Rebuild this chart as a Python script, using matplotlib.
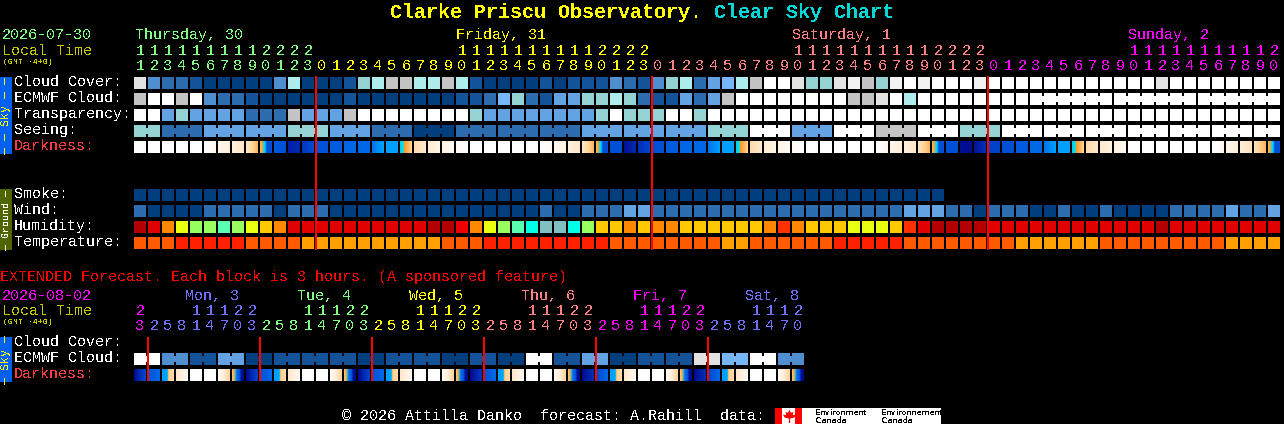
import numpy as np
import matplotlib
matplotlib.use("Agg")
import matplotlib.pyplot as plt
from matplotlib.colors import LinearSegmentedColormap
from matplotlib.patches import Rectangle

plt.rcParams['font.family'] = ['Liberation Mono', 'DejaVu Sans Mono']
plt.rcParams['text.antialiased'] = False
plt.rcParams['text.hinting'] = 'native'
plt.rcParams['text.hinting_factor'] = 1

# ---------- data ----------
first_hour = 11
ext_first_hour = 23

cloud_cover = list("g3221" "00000" "3t000" "1TtGG" "t"
                   "tGt10" "00010" "11132" "13Tt2" "45tGW" "WgTTg" "fGTfW" "fWWWf"
                   "WWWWWWWWWWWW" "g" "WWWWWWWW")
ecmwf_cloud = list("GWWGW" "32210" "00000" "10000" "0"
                   "00112" "5T214" "4TTtT" "21142" "4G" "WWWWWWWW" "GGgWt"
                   "WWWWWWWWWWWWWWWWWWWWWWWWWW")
transparency = list("WW4T4444" "222G444G" "WWWWWWWW" "T" "44444444" "TWTTTWWT"
                    "WWWWWWWWWWWWWWWWWWWWWWWWWWWWWWWWWWWWWWWWW")
seeing = list("TT" "222" "444" "444" "TTT" "444" "222" "000" "222" "222" "222" "444" "444" "444"
              "TTT" "WWW" "444" "WWW" "GGG" "WWW" "TTT" "WWW" "WWW" "WWW" "WWW" "WWW" "WWW" "WW")
smoke = list("0000000000" "0000000000" "0000000000" "0000000000" "0000000000" "00000000")
wind = list("20000" "22222" "0" "222" "000000000000000" "2" "00" "222" "44"
            "222222222222222222" "444" "22" "0" "222" "00" "2" "00" "2" "0000" "2222" "4" "22" "4")
humidity = ["B", "R", "O", "L", "V", "V", "M", "V", "L", "Y", "O", "R", "R", "R", "R", "R", "R", "R", "R", "R", "R",
            "B", "B", "H", "O", "L", "V", "M", "C", "S", "S", "C", "V", "Y", "Y", "O", "Y", "O", "O", "Y", "Y",
            "Y", "Y", "Y", "Y", "O", "E", "O", "Y", "Y", "Y", "L", "L", "L", "Y", "E", "R", "B", "B", "B", "B",
            "R", "R", "R", "R", "R", "R", "R", "R", "R", "R", "R", "R", "B", "R", "R", "R", "R", "R", "R", "R", "R"]
temperature = list("PPP" "QQQQQ" "PPPP" "AAAAAAAAAA" "PPP" "QQQQQQQQQ" "PPPPPPPP" "AA" "PPPPPP" "QQQQQ"
                   "PPPPPPPP" "AAAAAA" "PPPPPPPPP" "AAAA")
DUSK = (4, 4.4, 4.8, 8, 8, 8)
DAWN = (4.85, 4.4, 4, 3)
darkness = [(0,), (0,), (0,), (0,), (0,), (0, .6), (.8, 1.2), (1.4, 1.9), (2, 2.5, 3.2, 3.8), DUSK,
            (7.6, 8), (9.4, 9.2), (8.8, 8.2), (7.9,), (7.5,), (7,), (7,), (6.8, 6.3, 6), (6,), DAWN,
            (2.6, 1.8), (1.6, 1), (1, .5), (.4, 0), (0,), (0,), (0,), (0,), (0,), (0, .5),
            (.5, 1.1), (1.2, 2), (2, 3.8), DUSK, (8,), (9.8, 9.2), (9, 8.4), (8,), (7.5,), (7,),
            (7,), (6.8, 6), (6,), DAWN, (2.6, 1.8), (1.6, 1), (1, .4), (.4, 0), (0,), (0,),
            (0,), (0,), (0,), (0, .6), (.8, 1.4), (1.4, 2), (2.2, 3.8), DUSK, (8,), (9.9, 10),
            (9.8, 9), (8.4,), (8,), (7.6,), (7,), (6.8, 6), (6,), DAWN, (2.6, 1.9), (1.8, 1.2),
            (1.2, .5), (0,), (0,), (0,), (0,), (0,), (0,), (0, .6), (.8, 1.4), (1.5, 2.2),
            (2.4, 3.8), DUSK]

ext_ecmwf = list("W314" "0111" "0110" "10W1" "4011" "g5W3")
E_DUSK = (3.6, 4.4, 7, 7.4, 10, 10)
E_DAWN = (6, 6, 6, 3, 3, 2.6)
ext_darkness = [(10, 8.2), (7.8, 7), E_DAWN, (2, .5), (0,), (0,), (.3, 3), E_DUSK,
                (10, 8.4), (8, 7), E_DAWN, (2, .5), (0,), (0,), (.3, 3), E_DUSK,
                (10, 8.4), (8, 7), E_DAWN, (2, .5), (0,), (0,), (.3, 3), E_DUSK,
                (10, 8.8), (8, 7), E_DAWN, (2, .5), (0,), (0,), (.3, 3), E_DUSK,
                (10, 9), (8.4, 7), E_DAWN, (2, .5), (0,), (0,), (.3, 3), E_DUSK,
                (10, 9), (8.4, 7), E_DAWN, (2, .5), (0,), (0,), (.3, 3), E_DUSK]

row_labels = ["Cloud Cover:", "ECMWF Cloud:", "Transparency:", "Seeing:", "Darkness:"]
ground_labels = ["Smoke:", "Wind:", "Humidity:", "Temperature:"]
day_labels = [("Thursday, 30", 135, "#80FF80"), ("Friday, 31", 456, "#FFFF00"),
              ("Saturday, 1", 792, "#FF8080"), ("Sunday, 2", 1128, "#FF00FF")]
ext_day_labels = [("Mon, 3", 185, "#7070FF"), ("Tue, 4", 297, "#80FF80"), ("Wed, 5", 409, "#FFFF00"),
                  ("Thu, 6", 521, "#FF8080"), ("Fri, 7", 633, "#FF00FF"), ("Sat, 8", 745, "#7070FF")]
day_breaks = [13, 37, 61]
hour_colors = ["#80FF80", "#FFFF00", "#FF8080", "#FF00FF"]
ext_breaks = [1, 9, 17, 25, 33, 41]
ext_colors = ["#FF00FF", "#7070FF", "#80FF80", "#FFFF00", "#FF8080", "#FF00FF", "#7070FF"]

palette = {
    '0': '#003E7E', '1': '#14539A', '2': '#2D6CAE', '3': '#4F8FD0', '4': '#63A3E3', '5': '#76B6F6',
    'T': '#94D3D3', 't': '#ADEDED', 'G': '#C4C4C4', 'g': '#E2E2E2', 'f': '#F2F2F2', 'W': '#FFFFFF',
    'B': '#B40000', 'R': '#E00000', 'H': '#F00000', 'E': '#FF3000', 'O': '#FF8800', 'Y': '#FFC800',
    'L': '#E8FF10', 'V': '#98FF60', 'M': '#58FFB0', 'C': '#00FFE8', 'S': '#80C0C0',
    'P': '#FF5A00', 'Q': '#FF2000', 'A': '#FFA000',
}

dark_cmap = LinearSegmentedColormap.from_list("dark", [
    (0.00, '#FFFFFF'), (0.10, '#FFF4E6'), (0.20, '#FFE6C8'), (0.30, '#FFD498'), (0.40, '#FFB050'),
    (0.44, '#FF9A20'), (0.45, '#00E8E8'), (0.48, '#00D0F0'), (0.60, '#00A0FF'), (0.70, '#0068E8'),
    (0.80, '#0050D8'), (0.90, '#0030B8'), (1.00, '#000C90')], N=512)

# ---------- figure ----------
W, H = 1284, 424
fig = plt.figure(figsize=(W / 100, H / 100), dpi=100, facecolor='black')
ax = fig.add_axes([0, 0, 1, 1])
ax.set_facecolor('black')
ax.axis('off')

X0, PITCH, CELL = 134, 14, 12


def cx(c):
    return X0 + PITCH * c


def rect(x, y, w, h, color, z=2, snap=True):
    ax.add_patch(Rectangle((x, y), w, h, facecolor=color, edgecolor='none', antialiased=False, zorder=z, snap=snap))


def txt(x, y, s, color='white', size=10.8, **kw):
    kw.setdefault('va', 'baseline')
    kw.setdefault('ha', 'left')
    ax.text(x, y, s, color=color, fontsize=size, zorder=6, **kw)


def draw_row(values, y, joins=()):
    for c, v in enumerate(values):
        rect(cx(c), y, CELL, CELL, palette[v])
    for a, b in joins:
        for c in range(a, b):
            rect(cx(c) + CELL, y + 3, PITCH - CELL, 6, palette[values[c]])


def draw_dark(values, y):
    for c, samples in enumerate(values):
        xs = np.linspace(0, 1, len(samples)) if len(samples) > 1 else np.array([0.0])
        px = np.interp(np.linspace(0, 1, CELL), xs, samples)
        ax.imshow(px[None, :] / 10, cmap=dark_cmap, vmin=0, vmax=1, extent=(cx(c), cx(c) + CELL, y + CELL, y),
                  aspect='auto', interpolation='nearest', zorder=2)


def hour_digits(hours, breaks, colors, y_tens, y_ones):
    for c, h in enumerate(hours):
        col = colors[sum(c >= b for b in breaks)]
        if h >= 10:
            txt(cx(c) + 6, y_tens, str(h // 10), col, ha='center')
        txt(cx(c) + 6, y_ones, str(h % 10), col, ha='center')


# title
title_a, title_b = "Clarke Priscu Observatory.", "Clear Sky Chart"
txt(390, 18, title_a, '#FFFF00', 14.4, fontweight='bold')
txt(714, 18, title_b, '#00D8D8', 14.4, fontweight='bold')

# header
txt(2, 39, "2026-07-30", "#80FF80")
txt(2, 55, "Local Time", "#C8C800")
txt(3, 64, "(GMT -4+0)", "#C8C800", 5.6)
for s, x, col in day_labels:
    txt(x, 39, s, col)
hours = [(first_hour + i) % 24 for i in range(len(darkness))]
hour_digits(hours, day_breaks, hour_colors, 55, 70)

# sky rows
rows_y = [77, 93, 109, 125, 141]
seeing_joins = [(0, 1)] + [(c, c + 2) for c in range(2, 80, 3)] + [(80, 81)]
ecmwf_joins = [(64, 69), (70, 75), (76, 81)]
draw_row(cloud_cover, rows_y[0])
draw_row(ecmwf_cloud, rows_y[1], ecmwf_joins)
draw_row(transparency, rows_y[2])
draw_row(seeing, rows_y[3], seeing_joins)
draw_dark(darkness, rows_y[4])
for s, y in zip(row_labels, rows_y):
    txt(14, y + 9, s, '#FF3C3C' if s.startswith('Dark') else 'white')

# ground rows
ground_y = [189, 205, 221, 237]
for vals, y in zip([smoke, wind, humidity, temperature], ground_y):
    draw_row(vals, y)
for s, y in zip(ground_labels, ground_y):
    txt(14, y + 9, s)

# side bars
rect(0, 77, 12, 77, '#0060F0')
txt(6, 115.5, "\u2014 \u2014 Sky \u2014 \u2014", '#FFFF00', 8.5, rotation=90, ha='center', va='center')
rect(0, 189, 12, 61, '#4F6600')
txt(6, 219.5, "\u2014 Ground \u2014", 'white', 7.4, rotation=90, ha='center', va='center')
rect(0, 337, 12, 45, '#0060F0')
txt(6, 359.5, "\u2014 Sky \u2014", '#FFFF00', 8.5, rotation=90, ha='center', va='center')

# midnight lines
for c in day_breaks:
    rect(cx(c) - 1, 76, 2, 174, '#FF0000', 5, snap=False)

# extended forecast
txt(0, 281, "EXTENDED Forecast. Each block is 3 hours. (A sponsored feature)", '#FF0000')
txt(2, 300, "2026-08-02", "#FF00FF")
txt(2, 315, "Local Time", "#C8C800")
txt(3, 324, "(GMT -4+0)", "#C8C800", 5.6)
for s, x, col in ext_day_labels:
    txt(x, 300, s, col)
ext_hours = [(ext_first_hour + 3 * i) % 24 for i in range(len(ext_darkness))]
hour_digits(ext_hours, ext_breaks, ext_colors, 315, 330)

ext_y = [337, 353, 369]
for i, v in enumerate(ext_ecmwf):
    rect(cx(2 * i), ext_y[1], CELL, CELL, palette[v])
    rect(cx(2 * i + 1), ext_y[1], CELL, CELL, palette[v])
    rect(cx(2 * i) + CELL, ext_y[1] + 3, PITCH - CELL, 6, palette[v])
draw_dark(ext_darkness, ext_y[2])
for s, y in zip(["Cloud Cover:", "ECMWF Cloud:", "Darkness:"], ext_y):
    txt(14, y + 9, s, '#FF3C3C' if s.startswith('Dark') else 'white')
for c in ext_breaks:
    rect(cx(c) - 1, 337, 2, 44, '#FF0000', 5, snap=False)

# footer
txt(342, 420, "\u00a9 2026 Attilla Danko  forecast: A.Rahill  data:")
rect(775, 408, 166, 16, 'white')
rect(775, 408, 7, 16, '#FF0000', 3)
rect(795, 408, 7, 16, '#FF0000', 3)
leaf = np.array([[0, 1], [.25, .55], [.6, .7], [.5, .2], [1, .3], [.75, -.15], [.1, -.3], [.1, -1],
                 [-.1, -1], [-.1, -.3], [-.75, -.15], [-1, .3], [-.5, .2], [-.6, .7], [-.25, .55]])
ax.scatter([788.5], [416], marker=leaf, s=90, color='#FF0000', linewidths=0, zorder=4)
for x in (815.5, 880.5):
    txt(x, 415, "Environment" if x < 850 else "Environnement", 'black', 5.9, family='DejaVu Sans')
    txt(x, 423, "Canada", 'black', 5.9, family='DejaVu Sans')

ax.set_xlim(0, W)
ax.set_ylim(H, 0)
fig.savefig("out.png", dpi=100, facecolor='black')
